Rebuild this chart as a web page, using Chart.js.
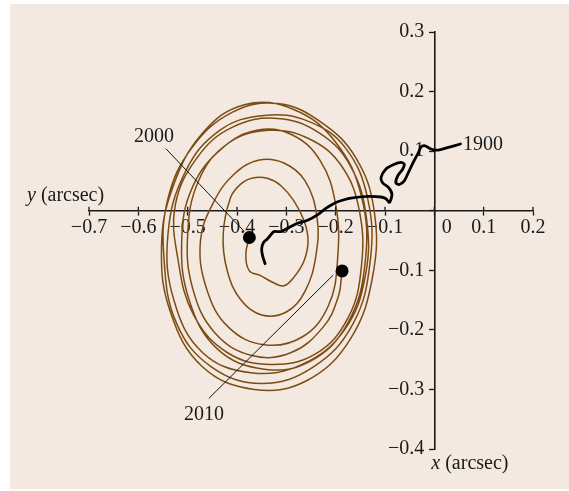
<!DOCTYPE html>
<html>
<head>
<meta charset="utf-8">
<script src="https://cdn.jsdelivr.net/npm/chart.js@4"></script>
<style>
  html, body { margin: 0; padding: 0; background: #ffffff; }
  #paper { position: absolute; left: 10px; top: 4px; width: 559px; height: 485px; background: #f3e9e0; }
  #chart { position: absolute; left: 0; top: 0; }
</style>
</head>
<body>
<div id="paper"></div>
<canvas id="chart" width="569" height="491"></canvas>
<script>
// polar motion, arcsec: horizontal axis is y, vertical axis is x
const axisTicksY = [-0.7, -0.6, -0.5, -0.4, -0.3, -0.2, -0.1, 0, 0.1, 0.2];
const axisTicksX = [-0.4, -0.3, -0.2, -0.1, 0, 0.1, 0.2, 0.3];

// mean pole drift from 1900 (black)
const meanPoleY = [0.053, 0.027, 0.010, 0.000, -0.010, -0.019, -0.027, -0.032, -0.041, -0.051,
  -0.061, -0.071, -0.078, -0.074, -0.064, -0.061, -0.068, -0.081, -0.098, -0.108,
  -0.105, -0.093, -0.086, -0.091, -0.098, -0.108, -0.135, -0.169, -0.196, -0.206,
  -0.220, -0.237, -0.257, -0.277, -0.294, -0.311, -0.325, -0.331, -0.338, -0.346,
  -0.350, -0.348, -0.343];
const meanPoleX = [0.112, 0.106, 0.102, 0.102, 0.105, 0.109, 0.107, 0.098, 0.084, 0.067,
  0.050, 0.044, 0.047, 0.059, 0.070, 0.078, 0.081, 0.078, 0.070, 0.056,
  0.047, 0.039, 0.028, 0.014, 0.020, 0.023, 0.024, 0.021, 0.015, 0.011,
  0.004, -0.007, -0.016, -0.021, -0.028, -0.035, -0.035, -0.040, -0.047, -0.053,
  -0.064, -0.076, -0.089];

// pole path 2000 - 2010 (brown), one row per turn
const wobbleY = [
  -0.375, -0.382, -0.375, -0.352, -0.326, -0.305, -0.285, -0.264, -0.256, -0.264, -0.285, -0.311, -0.337, -0.368, -0.392, -0.413,
  -0.428, -0.420, -0.392, -0.350, -0.300, -0.262, -0.240, -0.238, -0.262, -0.305, -0.355, -0.405, -0.447,
  -0.474, -0.462, -0.418, -0.345, -0.268, -0.215, -0.196, -0.200, -0.232, -0.290, -0.360, -0.430, -0.490,
  -0.512, -0.497, -0.440, -0.345, -0.250, -0.175, -0.140, -0.148, -0.200, -0.285, -0.385, -0.470, -0.530,
  -0.553, -0.535, -0.470, -0.365, -0.258, -0.170, -0.125, -0.122, -0.160, -0.232, -0.318, -0.410, -0.492, -0.540,
  -0.548, -0.522, -0.452, -0.350, -0.245, -0.165, -0.130, -0.135, -0.180, -0.255, -0.345, -0.435, -0.505,
  -0.540, -0.528, -0.470, -0.372, -0.268, -0.182, -0.140, -0.138, -0.170, -0.232, -0.318, -0.410, -0.480, -0.525,
  -0.520, -0.488, -0.420, -0.330, -0.240, -0.175, -0.148, -0.152, -0.188, -0.252, -0.335, -0.420, -0.478,
  -0.500, -0.490, -0.445, -0.370, -0.290, -0.225, -0.195, -0.187];
const wobbleX = [
  -0.045, -0.072, -0.101, -0.109, -0.121, -0.126, -0.112, -0.084, -0.050, -0.017, 0.017, 0.042, 0.054, 0.055, 0.045, 0.022,
  -0.040, -0.100, -0.150, -0.175, -0.170, -0.135, -0.075, -0.010, 0.050, 0.080, 0.085, 0.062, 0.015,
  -0.050, -0.130, -0.195, -0.225, -0.212, -0.160, -0.080, 0.010, 0.085, 0.128, 0.135, 0.105, 0.040,
  -0.048, -0.150, -0.232, -0.266, -0.252, -0.188, -0.085, 0.025, 0.115, 0.170, 0.178, 0.130, 0.040,
  -0.060, -0.170, -0.262, -0.300, -0.285, -0.215, -0.110, 0.000, 0.090, 0.150, 0.180, 0.165, 0.105, 0.020,
  -0.080, -0.190, -0.262, -0.290, -0.262, -0.190, -0.085, 0.020, 0.105, 0.150, 0.160, 0.135, 0.065,
  -0.040, -0.150, -0.238, -0.272, -0.258, -0.200, -0.110, -0.010, 0.075, 0.130, 0.155, 0.140, 0.090, 0.010,
  -0.080, -0.175, -0.238, -0.258, -0.240, -0.180, -0.095, 0.000, 0.075, 0.120, 0.135, 0.112, 0.050,
  -0.040, -0.130, -0.205, -0.243, -0.238, -0.195, -0.145, -0.101];

// marked epochs
const epochLabels = ["1900", "2000", "2010"];
const dotY = [-0.375, -0.187];
const dotX = [-0.045, -0.101];
const lead2000Y = [-0.544, -0.385];
const lead2000X = [0.104, -0.035];
const lead2010Y = [-0.457, -0.205];
const lead2010X = [-0.315, -0.108];

const ink = "#1a1a1a";
const serif = "Liberation Serif";

function pts(ys, xs) {
  return ys.map((v, i) => ({ x: v, y: xs[i] }));
}

function fmt(v, zeroText, tail) {
  const r = Math.round(v * 10) / 10;
  if (r === 0) return zeroText;
  return (r < 0 ? "\u2212" : "") + Math.abs(r).toFixed(1) + tail;
}

const textPlugin = {
  id: "texts",
  afterDraw(chart) {
    const c = chart.ctx;
    const xs = chart.scales.x;
    const ys = chart.scales.y;
    const ox = xs.getPixelForValue(0);
    const oy = ys.getPixelForValue(0);
    c.save();
    c.fillStyle = ink;
    c.strokeStyle = ink;
    c.lineWidth = 1.3;
    // short tick stubs above the horizontal axis
    c.beginPath();
    axisTicksY.forEach((v) => {
      const p = xs.getPixelForValue(v);
      c.moveTo(p, oy - 4);
      c.lineTo(p, oy);
    });
    c.stroke();

    // axis titles, italic variable name
    const title = (name, x0, y0) => {
      c.textAlign = "left";
      c.textBaseline = "alphabetic";
      c.font = "italic 20px " + serif;
      c.fillText(name, x0, y0);
      const w = c.measureText(name).width;
      c.font = "20px " + serif;
      c.fillText(" (arcsec)", x0 + w, y0);
    };
    title("y", xs.left - 62, oy - 10);
    title("x", ox - 3, ys.bottom + 20);

    c.font = "20px " + serif;
    c.textBaseline = "middle";
    c.textAlign = "left";
    c.fillText(epochLabels[0], xs.getPixelForValue(0.058), ys.getPixelForValue(0.110));
    c.textAlign = "center";
    c.fillText(epochLabels[1], xs.getPixelForValue(-0.568), ys.getPixelForValue(0.124));
    c.fillText(epochLabels[2], xs.getPixelForValue(-0.467), ys.getPixelForValue(-0.342));
    c.restore();
  },
};

const ctx = document.getElementById("chart");

new Chart(ctx, {
  type: "scatter",
  data: {
    datasets: [
      {
        data: pts(dotY, dotX),
        pointRadius: 6.5,
        pointBackgroundColor: "#000000",
        pointBorderWidth: 0,
        showLine: false,
      },
      {
        data: pts(lead2000Y, lead2000X),
        showLine: true,
        borderColor: "#111111",
        borderWidth: 1,
        pointRadius: 0,
      },
      {
        data: pts(lead2010Y, lead2010X),
        showLine: true,
        borderColor: "#111111",
        borderWidth: 1,
        pointRadius: 0,
      },
      {
        data: pts(meanPoleY, meanPoleX),
        showLine: true,
        borderColor: "#000000",
        borderWidth: 2.8,
        borderCapStyle: "round",
        borderJoinStyle: "round",
        tension: 0.3,
        pointRadius: 0,
      },
      {
        data: pts(wobbleY, wobbleX),
        showLine: true,
        borderColor: "#7d4c14",
        borderWidth: 1.5,
        tension: 0.4,
        pointRadius: 0,
      },
    ],
  },
  options: {
    responsive: false,
    animation: false,
    events: [],
    layout: { padding: { left: 89, right: 36, top: 32, bottom: 42 } },
    plugins: { legend: { display: false }, tooltip: { enabled: false } },
    scales: {
      x: {
        type: "linear",
        position: { y: 0 },
        min: -0.7,
        max: 0.2,
        afterFit: (s) => { s.height = 0; },
        afterBuildTicks: (s) => { s.ticks = axisTicksY.map((v) => ({ value: v })); },
        ticks: {
          autoSkip: false,
          maxRotation: 0,
          padding: 1,
          color: ink,
          font: { family: serif, size: 20 },
          callback: (v) => fmt(v, "     0", ""),
        },
        grid: { drawOnChartArea: false, tickLength: 4, tickWidth: 1.3, tickColor: ink },
        border: { color: ink, width: 1.6 },
      },
      y: {
        type: "linear",
        position: { x: 0 },
        min: -0.4,
        max: 0.3,
        afterFit: (s) => { s.width = 0; },
        afterBuildTicks: (s) => { s.ticks = axisTicksX.map((v) => ({ value: v })); },
        ticks: {
          autoSkip: false,
          color: ink,
          font: { family: serif, size: 20 },
          callback: (v) => fmt(v, "", "  "),
        },
        grid: { drawOnChartArea: false, tickLength: 5, tickWidth: 1.3, tickColor: ink },
        border: { color: ink, width: 1.6 },
      },
    },
  },
  plugins: [textPlugin],
});
</script>
</body>
</html>
